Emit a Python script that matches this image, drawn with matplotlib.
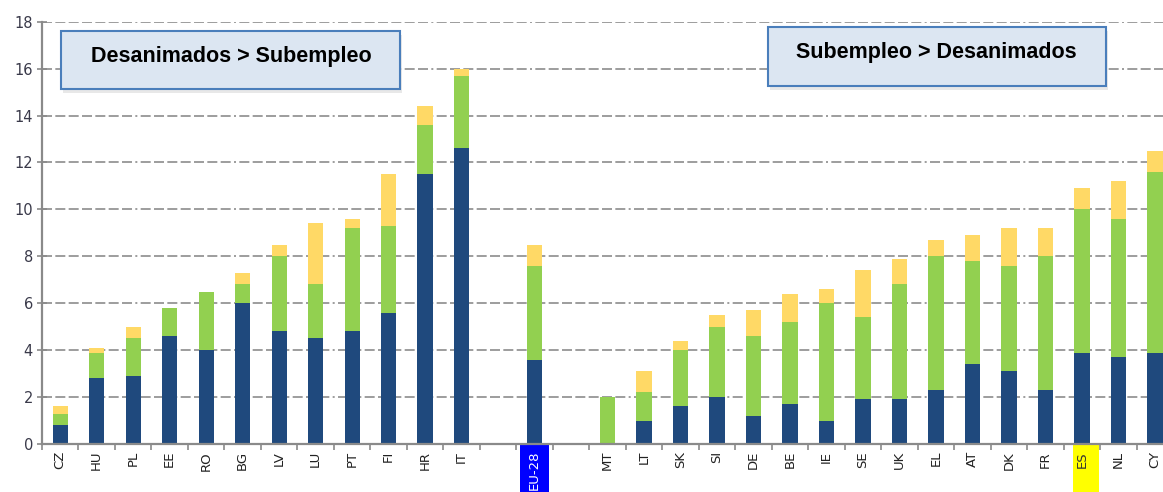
import matplotlib
matplotlib.use("Agg")
import matplotlib.pyplot as plt
from matplotlib.patches import Rectangle
import numpy as np

# ---- data ----
group1 = ["CZ", "HU", "PL", "EE", "RO", "BG", "LV", "LU", "PT", "FI", "HR", "IT"]
blue1 = [0.8, 2.8, 2.9, 4.6, 4.0, 6.0, 4.8, 4.5, 4.8, 5.6, 11.5, 12.6]
green1 = [0.5, 1.1, 1.6, 1.2, 2.5, 0.8, 3.2, 2.3, 4.4, 3.7, 2.1, 3.1]
yellow1 = [0.3, 0.2, 0.5, 0.0, 0.0, 0.5, 0.5, 2.6, 0.4, 2.2, 0.8, 0.3]

eu_label = ["EU-28"]
eu_blue = [3.6]
eu_green = [4.0]
eu_yellow = [0.9]

group2 = ["MT", "LT", "SK", "SI", "DE", "BE", "IE", "SE", "UK", "EL", "AT", "DK", "FR", "ES", "NL", "CY"]
blue2 = [0.0, 1.0, 1.6, 2.0, 1.2, 1.7, 1.0, 1.9, 1.9, 2.3, 3.4, 3.1, 2.3, 3.9, 3.7, 3.9]
green2 = [2.0, 1.2, 2.4, 3.0, 3.4, 3.5, 5.0, 3.5, 4.9, 5.7, 4.4, 4.5, 5.7, 6.1, 5.9, 7.7]
yellow2 = [0.0, 0.9, 0.4, 0.5, 1.1, 1.2, 0.6, 2.0, 1.1, 0.7, 1.1, 1.6, 1.2, 0.9, 1.6, 0.9]

box_left = "Desanimados > Subempleo"
box_right = "Subempleo > Desanimados"
y_ticks = [0, 2, 4, 6, 8, 10, 12, 14, 16, 18]

# ---- layout of categories (empty slot around EU-28) ----
labels = group1 + [""] + eu_label + [""] + group2
blue = blue1 + [0] + eu_blue + [0] + blue2
green = green1 + [0] + eu_green + [0] + green2
yellow = yellow1 + [0] + eu_yellow + [0] + yellow2
x = np.arange(len(labels))
blue = np.array(blue); green = np.array(green); yellow = np.array(yellow)

C_BLUE = "#1F497D"
C_GREEN = "#92D050"
C_YELLOW = "#FFD966"
GRID = "#8c8c8c"
SPINE = "#8a8a8a"

fig = plt.figure(figsize=(11.63, 4.92), dpi=100)
ax = fig.add_axes([42 / 1163, 48 / 492, 1 - 42 / 1163, (444 - 21.7) / 492])

w = 0.42
ax.bar(x, blue, w, color=C_BLUE, zorder=2)
ax.bar(x, green, w, bottom=blue, color=C_GREEN, zorder=2)
ax.bar(x, yellow, w, bottom=blue + green, color=C_YELLOW, zorder=2)

ax.set_axisbelow(True)

dash = (0, (6, 2, 6, 2, 6, 2, 6, 2, 6, 2, 6, 2, 6, 2, 1.2, 2))
ax.yaxis.grid(True, color=GRID, linestyle=dash, linewidth=1.2)
ax.xaxis.grid(False)

for s in ["top", "right"]:
    ax.spines[s].set_visible(False)
for s in ["left", "bottom"]:
    ax.spines[s].set_color(SPINE)
    ax.spines[s].set_linewidth(1.6)

ax.set_yticks(y_ticks)
ax.tick_params(axis="y", direction="inout", length=7, width=1.2, color=SPINE,
               labelsize=10.5, labelcolor="#3a3a4a", pad=3)

ax.set_xticks(x)
ax.set_xticklabels(labels, rotation=90, fontsize=9.5, color="#222222")
ax.tick_params(axis="x", which="major", length=0, pad=5)
ax.set_xticks(np.arange(-0.5, len(labels), 1.0), minor=True)
ax.tick_params(axis="x", which="minor", direction="out", length=4, width=1.2, color=SPINE)

# limits after ticks (set_ticks may expand the view)
ax.set_xlim(-0.5, 30.22)
ax.set_ylim(0, 18)

# highlighted labels
ax_h = (444 - 21.7)
trans = ax.get_xaxis_transform()
for lab, fc, tc, dx in [("EU-28", "#0000FF", "white", 0.0), ("ES", "#FFFF00", "#333333", 0.1)]:
    i = labels.index(lab)
    hw = 0.40 if lab == "EU-28" else 0.36
    r = Rectangle((i - hw + dx, -1.0 / ax_h), 2 * hw, -60 / ax_h, transform=trans,
                  facecolor=fc, edgecolor="none", clip_on=False, zorder=0.1)
    ax.add_patch(r)
    ax.get_xticklabels()[i].set_color(tc)

# annotation boxes
def add_box(l, r, b, t, text, tx, ty):
    W, H = 1163, 492
    shadow = Rectangle((l / W + 0.002, 1 - t / H - 0.008), (r - l) / W, (t - b) / H,
                       transform=fig.transFigure, facecolor="#d9d9d9", edgecolor="none",
                       alpha=0.6, zorder=9)
    fig.add_artist(shadow)
    rect = Rectangle((l / W, 1 - t / H), (r - l) / W, (t - b) / H,
                     transform=fig.transFigure, facecolor="#DCE6F2", edgecolor="#4A7EBB",
                     linewidth=1.5, zorder=10)
    fig.add_artist(rect)
    fig.text(tx / W, 1 - ty / H, text, ha="center", va="baseline", fontsize=15.5,
             fontweight="bold", family="Liberation Sans", color="black", zorder=11)

add_box(61, 400, 31, 89, box_left, 231.5, 62)
add_box(768, 1106, 27, 86, box_right, 936.5, 58.3)

fig.savefig("out.png", dpi=100)
